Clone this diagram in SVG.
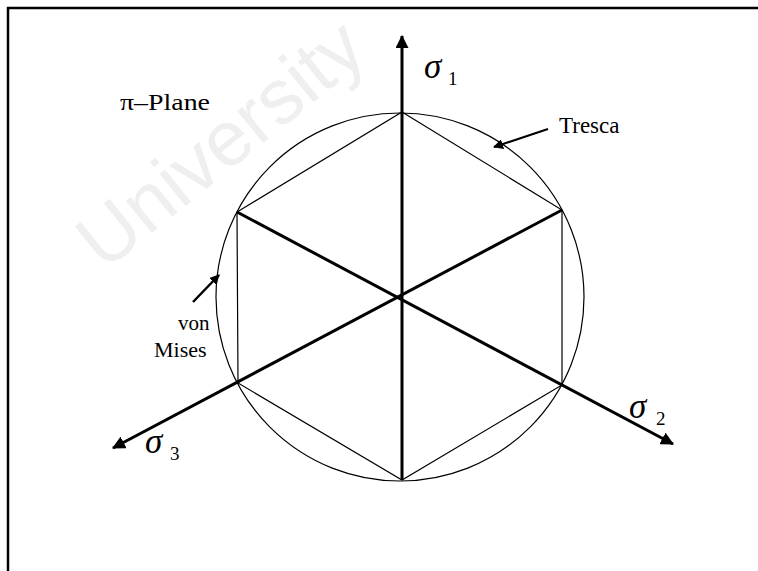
<svg xmlns="http://www.w3.org/2000/svg" width="758" height="571" viewBox="0 0 758 571">
<defs>
<marker id="ah" markerWidth="10" markerHeight="10" viewBox="0 0 10 10" refX="9" refY="5" orient="auto" markerUnits="userSpaceOnUse">
<path d="M0,0 L10,5 L0,10 z" fill="#000"/>
</marker>
<marker id="ahBig" viewBox="0 0 12 12" refX="11" refY="6" markerWidth="13" markerHeight="13" orient="auto" markerUnits="userSpaceOnUse">
<path d="M0,0 L12,6 L0,12 z" fill="#000"/>
</marker>
</defs>
<style>
.thin{fill:none;stroke:#000;stroke-width:1.2}
.thick{fill:none;stroke:#000;stroke-width:3}
.lbl{font-family:"Liberation Serif","Times New Roman",serif;fill:#000}
.sym{font-family:"Liberation Serif","Times New Roman",serif;font-style:italic;fill:#000}
.wm{font-family:"Liberation Sans",Arial,sans-serif;fill:#efefef}
</style>
<rect width="758" height="571" fill="#fff"/>
<text class="wm" x="0" y="0" font-size="78" transform="translate(104,272) rotate(-39)">University</text>
<g id="frame">
<path d="M7,8 H758 M8,7 V571" stroke="#000" stroke-width="2.5" fill="none"/>
</g>
<g id="vonMises">
<circle class="thin" cx="400" cy="297" r="184"/>
</g>
<g id="tresca">
<polygon class="thin" points="402,112 562,210 562,385 402,480 238,383 237,212"/>
</g>
<g id="connectors">
<line class="thick" x1="402" y1="480" x2="402" y2="36" marker-end="url(#ahBig)"/>
<line class="thick" x1="237" y1="212" x2="673" y2="444" marker-end="url(#ahBig)"/>
<line class="thick" x1="562" y1="210" x2="113" y2="448" marker-end="url(#ahBig)"/>
<line x1="548" y1="129" x2="494" y2="147" stroke="#000" stroke-width="2" marker-end="url(#ah)"/>
<line x1="193" y1="302" x2="219" y2="275" stroke="#000" stroke-width="2.5" marker-end="url(#ah)"/>
</g>
<g id="labels">
<text class="lbl" x="120" y="110" font-size="24" textLength="90" lengthAdjust="spacingAndGlyphs">π–Plane</text>
<text class="lbl" x="559" y="133" font-size="23">Tresca</text>
<text class="lbl" x="178" y="330" font-size="21">von</text>
<text class="lbl" x="154" y="357" font-size="22">Mises</text>
<text class="sym" x="424" y="78" font-size="35">σ</text>
<text class="lbl" x="448" y="85" font-size="19">1</text>
<text class="sym" x="629" y="418" font-size="35">σ</text>
<text class="lbl" x="656" y="425" font-size="19">2</text>
<text class="sym" x="145" y="453" font-size="35">σ</text>
<text class="lbl" x="170" y="460" font-size="19">3</text>
</g>
</svg>
